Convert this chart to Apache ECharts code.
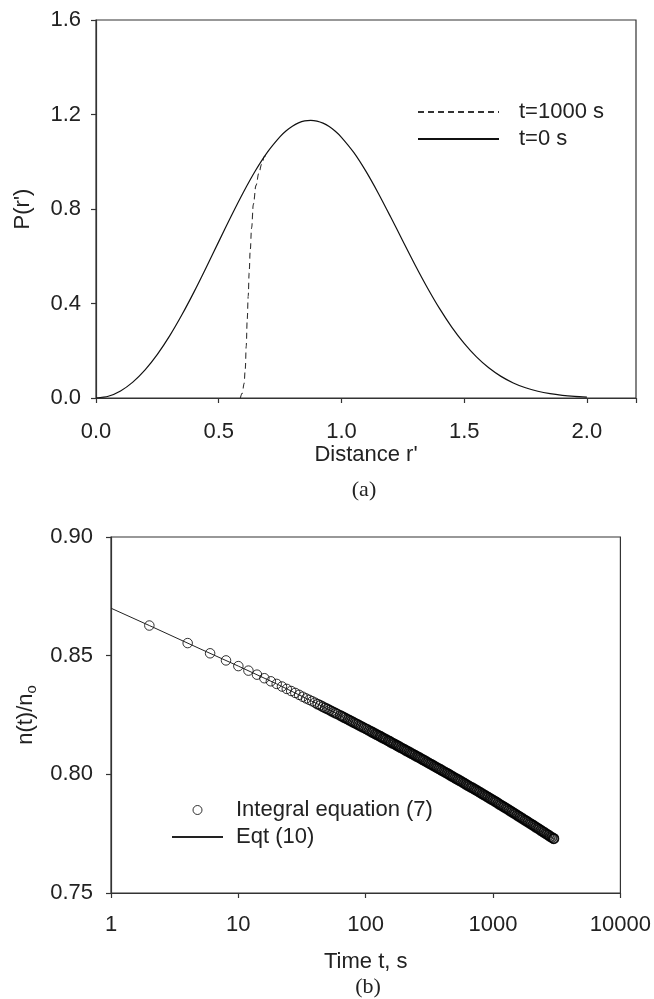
<!DOCTYPE html>
<html><head><meta charset="utf-8">
<script src="https://cdn.jsdelivr.net/npm/echarts@6/dist/echarts.min.js"></script>
<style>html,body{margin:0;padding:0;background:#fff}#c{width:654px;height:999px}</style>
</head><body><div id="c"></div>
<script>
// ---------- Panel (a) data ----------
const rT0 = [0,0.05,0.1,0.15,0.2,0.25,0.3,0.35,0.4,0.45,0.5,0.55,0.6,0.65,0.7,0.75,0.775,0.8,0.825,0.85,0.875,0.9,0.925,0.95,0.975,1.0,1.05,1.1,1.15,1.2,1.25,1.3,1.35,1.4,1.45,1.5,1.55,1.6,1.65,1.7,1.75,1.8,1.85,1.9,1.95,2.0];
const pT0 = [0,0.0075,0.0300,0.0673,0.1190,0.1846,0.2628,0.3521,0.4502,0.5546,0.6619,0.7684,0.8702,0.9632,1.0431,1.1067,1.1313,1.1507,1.1646,1.1729,1.1754,1.1722,1.1633,1.1488,1.1288,1.1036,1.0395,0.9592,0.8670,0.7672,0.6649,0.5633,0.4670,0.3781,0.2992,0.2310,0.1739,0.1278,0.0915,0.0638,0.0432,0.0285,0.0183,0.0114,0.0069,0.0040];
const rT1000 = [0.588,0.596,0.603,0.608,0.612,0.616,0.620,0.624,0.628,0.634,0.641,0.652,0.663,0.675,0.686,0.70];
const pT1000 = [0,0.02,0.06,0.12,0.22,0.33,0.43,0.53,0.62,0.72,0.82,0.90,0.95,0.99,1.022,1.043];
const xTicksA = ['0.0','0.5','1.0','1.5','2.0'];
const yTicksA = ['0.0','0.4','0.8','1.2','1.6'];

// ---------- Panel (b) data ----------
const tIntegral = [2,4,6,8,10,12,14,16,18,20,22,24,26,28,30,32,34,36,38,40,42,44,46,48,50,52,54,56,58,60,
63.1,64.9,66.8,68.8,70.8,72.9,75.0,77.2,79.4,81.8,84.1,86.6,89.1,91.7,94.4,97.2,
100,103,106,109,112,115,119,122,126,130,133,137,141,145,150,154,158,163,168,173,178,183,188,194,
200,205,211,218,224,230,237,244,251,259,266,274,282,290,299,307,316,325,335,345,355,365,376,387,
398,410,422,434,447,460,473,487,501,516,531,546,562,579,596,613,631,649,668,688,708,729,750,772,
794,818,841,866,891,917,944,972,1000,1029,1059,1090,1122,1155,1189,1223,1259,1296,1334,1373,1413,1454,1496,1540,
1585,1631,1679,1728,1778,1830,1884,1939,1995,2054,2114,2175,2239,2304,2371,2441,2512,2585,2661,2738,2818,2901,2985,3000];
const nIntegral = [0.8627,0.8553,0.8510,0.8480,0.8456,0.8437,0.8420,0.8405,0.8392,0.8381,0.8370,0.8360,0.8351,0.8343,0.8335,0.8327,0.8320,0.8314,0.8308,0.8302,0.8296,0.8291,0.8285,0.8280,0.8276,0.8271,0.8266,0.8262,0.8258,0.8254,
0.8248,0.8245,0.8241,0.8238,0.8234,0.8231,0.8227,0.8224,0.8220,0.8217,0.8213,0.8210,0.8206,0.8203,0.8199,0.8196,
0.8192,0.8189,0.8185,0.8182,0.8178,0.8175,0.8171,0.8167,0.8164,0.8160,0.8157,0.8153,0.8150,0.8146,0.8142,0.8139,0.8135,0.8131,0.8128,0.8124,0.8120,0.8117,0.8113,0.8109,
0.8106,0.8102,0.8098,0.8095,0.8091,0.8087,0.8084,0.8080,0.8076,0.8073,0.8069,0.8065,0.8061,0.8058,0.8054,0.8050,0.8046,0.8043,0.8039,0.8035,0.8031,0.8027,0.8024,0.8020,
0.8016,0.8012,0.8008,0.8005,0.8001,0.7997,0.7993,0.7989,0.7985,0.7981,0.7978,0.7974,0.7970,0.7966,0.7962,0.7958,0.7954,0.7950,0.7946,0.7943,0.7939,0.7935,0.7931,0.7927,
0.7923,0.7919,0.7915,0.7911,0.7907,0.7903,0.7899,0.7895,0.7891,0.7887,0.7883,0.7879,0.7874,0.7870,0.7866,0.7862,0.7858,0.7854,0.7849,0.7845,0.7841,0.7837,0.7833,0.7828,
0.7824,0.7820,0.7816,0.7811,0.7807,0.7803,0.7799,0.7794,0.7790,0.7786,0.7782,0.7777,0.7773,0.7769,0.7764,0.7760,0.7756,0.7751,0.7747,0.7743,0.7738,0.7734,0.7730,0.7729];
const tEqt10 = [1,2,5,10,20,50,100,200,500,1000,2000,3000];
const nEqt10 = [0.8700,0.8627,0.8529,0.8456,0.8381,0.8276,0.8192,0.8106,0.7985,0.7891,0.7790,0.7729];
const xTicksB = ['1','10','100','1000','10000'];
const yTicksB = ['0.75','0.80','0.85','0.90'];

// ---------- chart ----------
const FONT = 'Liberation Sans';
const TXT = '#222';
const AX = '#333';
function zip(a, b) { return a.map((v, i) => [v, b[i]]); }
function pick(labels, vals) {
  return function (v) {
    for (let i = 0; i < vals.length; i++) if (Math.abs(v - vals[i]) < 1e-6 * Math.max(1, vals[i])) return labels[i];
    return '';
  };
}
// isolated early circles drawn with thinner rings than the dense band
const integralData = zip(tIntegral, nIntegral).map(function (p) {
  if (p[0] <= 40) return { value: p, itemStyle: { borderWidth: 1 } };
  if (p[0] <= 110) return { value: p, itemStyle: { borderWidth: 1.25 } };
  return p;
});
const axisLineS = { show: true, lineStyle: { color: AX, width: 1.2 } };
const axisTickS = { show: true, inside: false, length: 5, lineStyle: { color: AX, width: 1.2 } };
const labelS = { color: TXT, fontFamily: FONT, fontSize: 22 };
const nameS = { color: TXT, fontFamily: FONT, fontSize: 22 };

const chart = echarts.init(document.getElementById('c'), null, { renderer: 'canvas' });
chart.setOption({
  animation: false,
  backgroundColor: '#fff',
  grid: [
    { left: 96, top: 20, right: 18, bottom: 601, show: true, borderColor: AX, borderWidth: 1.2, backgroundColor: 'transparent' },
    { left: 111, top: 537, right: 32, bottom: 106, show: true, borderColor: AX, borderWidth: 1.2, backgroundColor: 'transparent' }
  ],
  xAxis: [
    { gridIndex: 0, type: 'value', min: 0, max: 2.2, interval: 0.5,
      name: "Distance r'", nameLocation: 'middle', nameGap: 46, nameTextStyle: nameS,
      axisLine: axisLineS, axisTick: axisTickS, splitLine: { show: false },
      axisLabel: Object.assign({ margin: 23, formatter: pick(xTicksA, [0, 0.5, 1, 1.5, 2]) }, labelS) },
    { gridIndex: 1, type: 'log', logBase: 10, min: 1, max: 10000,
      name: 'Time t, s', nameLocation: 'middle', nameGap: 58, nameTextStyle: nameS,
      axisLine: axisLineS, axisTick: axisTickS, splitLine: { show: false }, minorTick: { show: false },
      axisLabel: Object.assign({ margin: 21, formatter: pick(xTicksB, [1, 10, 100, 1000, 10000]) }, labelS) }
  ],
  yAxis: [
    { gridIndex: 0, type: 'value', min: 0, max: 1.6, interval: 0.4,
      name: "P(r')", nameLocation: 'middle', nameGap: 62, nameTextStyle: nameS,
      axisLine: axisLineS, axisTick: axisTickS, splitLine: { show: false },
      axisLabel: Object.assign({ margin: 15, formatter: pick(yTicksA, [0, 0.4, 0.8, 1.2, 1.6]) }, labelS) },
    { gridIndex: 1, type: 'value', min: 0.75, max: 0.90, interval: 0.05,
      name: 'n(t)/n{sub|o}', nameLocation: 'middle', nameGap: 72,
      nameTextStyle: Object.assign({ rich: { sub: { fontFamily: FONT, fontSize: 15, color: TXT, padding: [12, 0, 0, 0] } } }, nameS),
      axisLine: axisLineS, axisTick: axisTickS, splitLine: { show: false },
      axisLabel: Object.assign({ margin: 18, formatter: pick(yTicksB, [0.75, 0.8, 0.85, 0.9]) }, labelS) }
  ],
  legend: [
    { left: 417, top: 101, orient: 'vertical', padding: 0, itemGap: 5, itemWidth: 81, itemHeight: 14,
      data: ['t=1000 s', 't=0 s'],
      itemStyle: { opacity: 0 },
      textStyle: { color: TXT, fontFamily: FONT, fontSize: 22, lineHeight: 22, padding: [0, 0, 0, 15] } },
    { left: 171, top: 799, orient: 'vertical', padding: 0, itemGap: 5, itemWidth: 51, itemHeight: 9,
      data: [{ name: 'Integral equation (7)', itemStyle: { borderWidth: 1 } }, { name: 'Eqt (10)', itemStyle: { opacity: 0 } }],
      textStyle: { color: TXT, fontFamily: FONT, fontSize: 22, lineHeight: 22, padding: [0, 0, 0, 8] } }
  ],
  series: [
    { name: 't=1000 s', type: 'line', xAxisIndex: 0, yAxisIndex: 0, data: zip(rT1000, pT1000),
      symbol: 'none', smooth: 0.4, smoothMonotone: 'x',
      lineStyle: { color: '#333', width: 1.1, type: [6, 4] }, itemStyle: { color: '#333' } },
    { name: 't=0 s', type: 'line', xAxisIndex: 0, yAxisIndex: 0, data: zip(rT0, pT0),
      symbol: 'none', smooth: 0.25,
      lineStyle: { color: '#111', width: 1.2 }, itemStyle: { color: '#111' } },
    { name: 'Eqt (10)', type: 'line', xAxisIndex: 1, yAxisIndex: 1, data: zip(tEqt10, nEqt10),
      symbol: 'none', lineStyle: { color: '#222', width: 1 }, itemStyle: { color: '#222' } },
    { name: 'Integral equation (7)', type: 'scatter', xAxisIndex: 1, yAxisIndex: 1, data: integralData,
      symbol: 'circle', symbolSize: 9.5,
      itemStyle: { color: 'rgba(0,0,0,0)', borderColor: '#000', borderWidth: 1.5 } }
  ],
  graphic: [
    { type: 'text', x: 364, y: 490, style: { text: '(a)', font: '22px "Liberation Serif"', fill: TXT, align: 'center', verticalAlign: 'middle', textAlign: 'center', textVerticalAlign: 'middle' } },
    { type: 'text', x: 368, y: 987, style: { text: '(b)', font: '22px "Liberation Serif"', fill: TXT, align: 'center', verticalAlign: 'middle', textAlign: 'center', textVerticalAlign: 'middle' } }
  ]
});
</script>
</body></html>
